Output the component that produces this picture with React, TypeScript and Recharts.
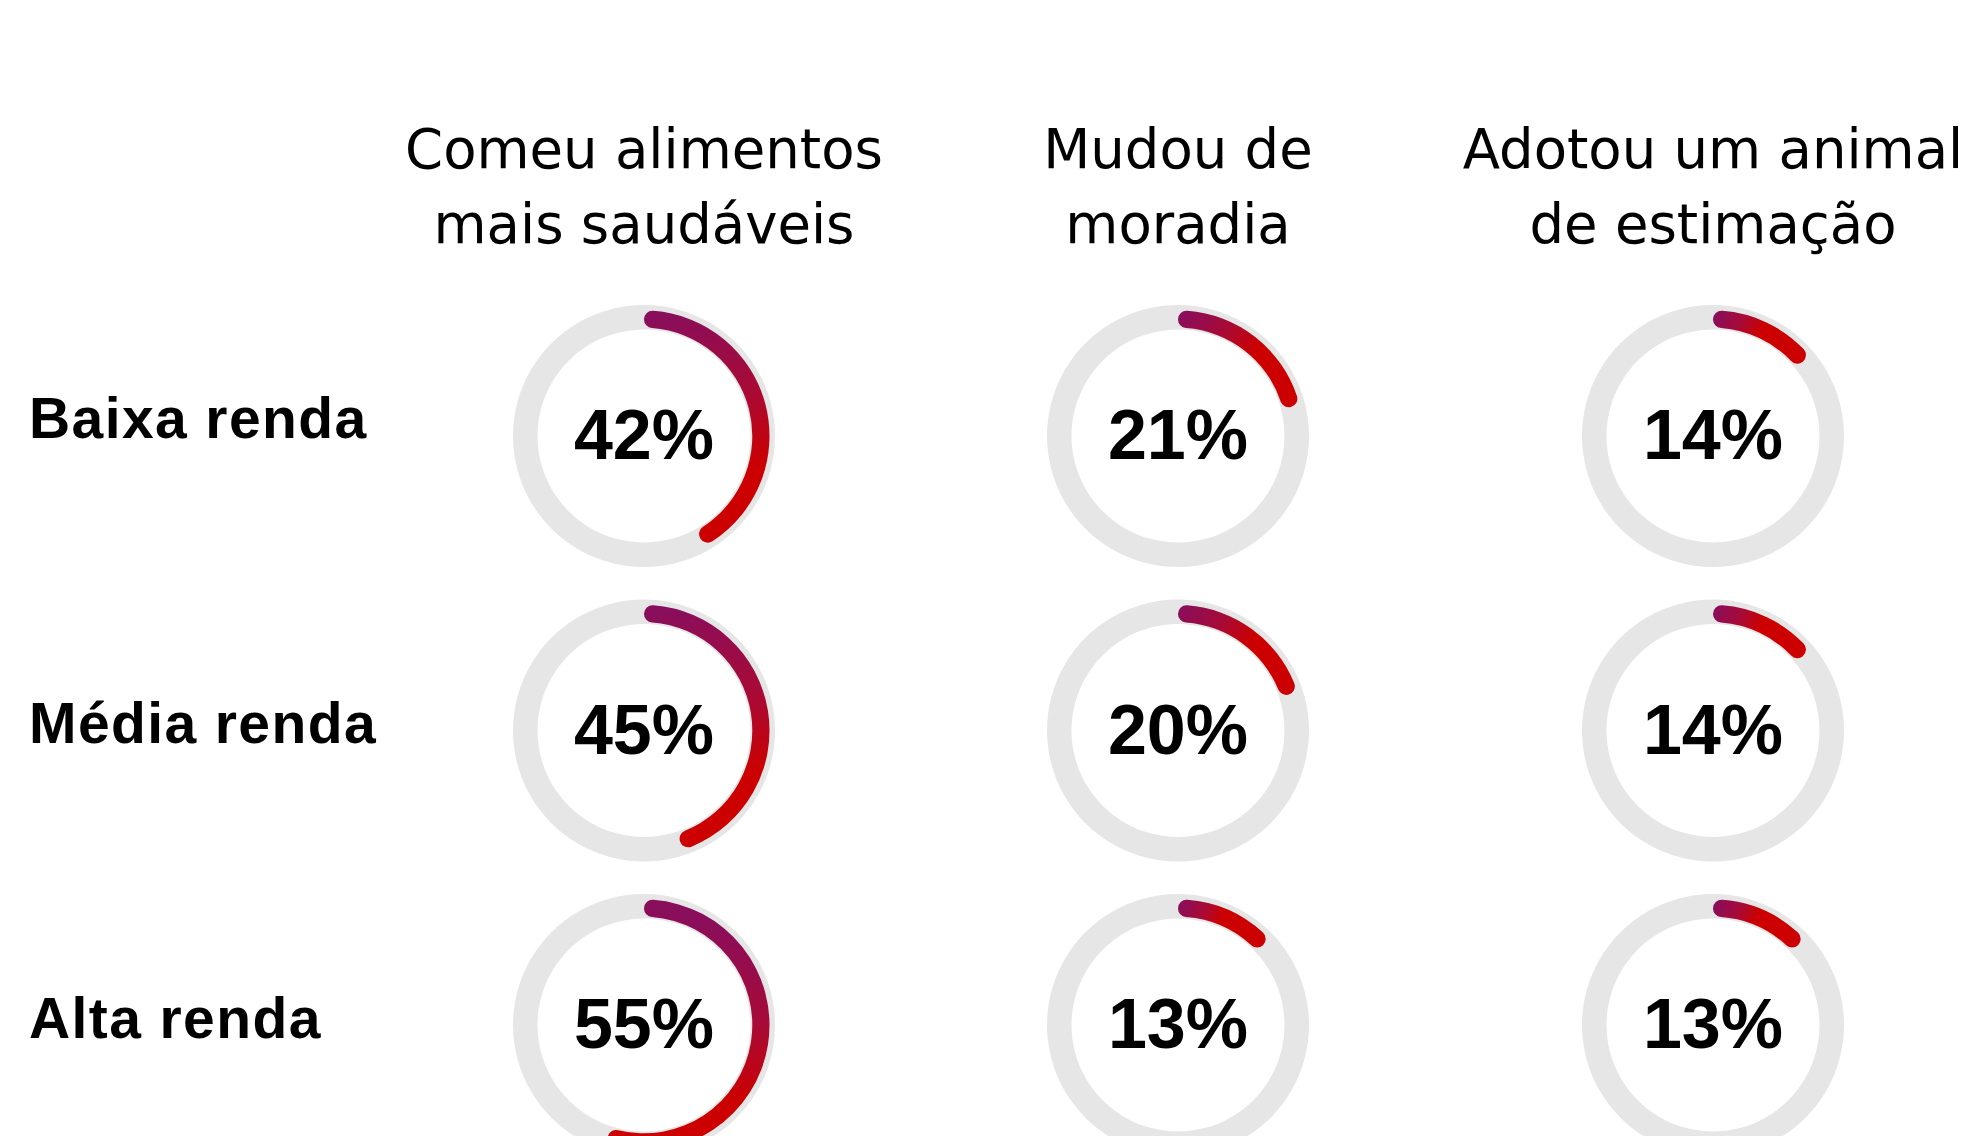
import React from "react";
import { PieChart, Pie, Cell } from "recharts";

// ---- Data ----
const columnTitles: string[][] = [
  ["Comeu alimentos", "mais saudáveis"],
  ["Mudou de", "moradia"],
  ["Adotou um animal", "de estimação"],
];
const incomeGroups: string[] = ["Baixa renda", "Média renda", "Alta renda"];
const healthierFood: number[] = [42, 45, 55];
const movedHome: number[] = [21, 20, 13];
const adoptedPet: number[] = [14, 14, 13];
const series: number[][] = [healthierFood, movedHome, adoptedPet];

// ---- Layout / style ----
const W = 1963;
const H = 1136;
const COL_X = [644, 1178, 1713];
const ROW_Y = [436, 730.5, 1025];
const LABEL_BASELINE = [438, 743, 1038];
const TRACK_IN = 106.5;
const TRACK_OUT = 131;
const ARC_IN = 108.3;
const ARC_OUT = 125.5;
const ARC_MID = (ARC_IN + ARC_OUT) / 2;
const PURPLE = "#890E5C";
const MID = "#A80A36";
const RED = "#CC0000";
const TRACK = "#E6E6E6";

function endPoint(cx: number, cy: number, pct: number) {
  const a = (pct / 100) * 2 * Math.PI;
  return { x: cx + ARC_MID * Math.sin(a), y: cy - ARC_MID * Math.cos(a) };
}

export default function App() {
  const cells: { r: number; c: number; v: number }[] = [];
  incomeGroups.forEach((_, r) => {
    series.forEach((s, c) => cells.push({ r, c, v: s[r] }));
  });

  return (
    <div style={{ position: "absolute", left: 0, top: 0, width: W, height: H, background: "#fff" }}>
      <PieChart width={W} height={H} margin={{ top: 0, right: 0, bottom: 0, left: 0 }}>
        <defs>
          {cells.map(({ r, c, v }) => {
            const cx = COL_X[c];
            const cy = ROW_Y[r];
            const e = endPoint(cx, cy, v);
            const redStop = Math.min(0.76, 0.35 + v / 100);
            return (
              <linearGradient
                key={`g-${r}-${c}`}
                id={`grad-${r}-${c}`}
                gradientUnits="userSpaceOnUse"
                x1={cx}
                y1={cy - ARC_MID}
                x2={e.x}
                y2={e.y}
              >
                <stop offset={0} stopColor={PURPLE} />
                <stop offset={redStop * 0.55} stopColor={MID} />
                <stop offset={redStop} stopColor={RED} />
                <stop offset={1} stopColor={RED} />
              </linearGradient>
            );
          })}
        </defs>

        {cells.map(({ r, c }) => (
          <Pie
            key={`track-${r}-${c}`}
            data={[{ name: "track", value: 100 }]}
            dataKey="value"
            cx={COL_X[c]}
            cy={ROW_Y[r]}
            innerRadius={TRACK_IN}
            outerRadius={TRACK_OUT}
            startAngle={90}
            endAngle={-270}
            stroke="none"
            fill={TRACK}
            isAnimationActive={false}
          />
        ))}

        {cells.map(({ r, c, v }) => (
          <Pie
            key={`arc-${r}-${c}`}
            data={[
              { name: "value", value: v },
              { name: "rest", value: 100 - v },
            ]}
            dataKey="value"
            cx={COL_X[c]}
            cy={ROW_Y[r]}
            innerRadius={ARC_IN}
            outerRadius={ARC_OUT}
            cornerRadius={(ARC_OUT - ARC_IN) / 2}
            startAngle={90}
            endAngle={-270}
            isAnimationActive={false}
          >
            <Cell fill={`url(#grad-${r}-${c})`} stroke="none" />
            <Cell fill="transparent" stroke="none" />
          </Pie>
        ))}

        <g>
          {cells.map(({ r, c, v }) => (
            <text
              key={`pct-${r}-${c}`}
              x={COL_X[c]}
              y={ROW_Y[r] + 23}
              textAnchor="middle"
              fontFamily="'Liberation Sans', Arial, sans-serif"
              fontWeight={700}
              fontSize={70}
              fill="#000"
            >
              {`${v}%`}
            </text>
          ))}
          {columnTitles.map((lines, c) =>
            lines.map((line, i) => (
              <text
                key={`t-${c}-${i}`}
                x={COL_X[c]}
                y={168 + i * 75}
                textAnchor="middle"
                fontFamily="'DejaVu Sans', sans-serif"
                fontSize={54.5}
                fill="#000"
              >
                {line}
              </text>
            ))
          )}
          {incomeGroups.map((g, r) => (
            <text
              key={`rl-${r}`}
              x={29}
              y={LABEL_BASELINE[r]}
              fontFamily="'Liberation Sans', Arial, sans-serif"
              fontWeight={700}
              fontSize={57}
              letterSpacing={1.4}
              fill="#000"
            >
              {g}
            </text>
          ))}
        </g>
      </PieChart>
    </div>
  );
}
